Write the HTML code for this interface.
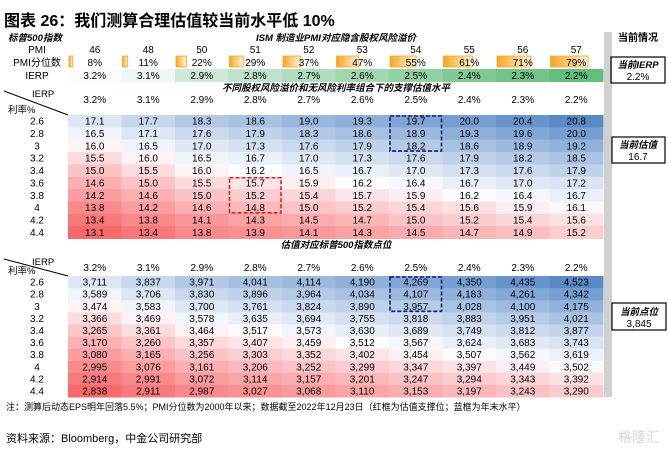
<!DOCTYPE html>
<html><head><meta charset="utf-8">
<style>
body{margin:0;background:#fff;}
svg{display:block;font-family:"Liberation Sans","Noto Sans CJK SC",sans-serif;}
</style></head>
<body>
<svg id="c" width="668" height="451" xmlns="http://www.w3.org/2000/svg">
<text x="4" y="26" font-size="16" font-weight="bold" fill="#000">图表 26：我们测算合理估值较当前水平低 10%</text>
<rect x="604" y="32" width="8" height="365" fill="#d0d0d0"/>
<text x="8" y="41" font-size="9.5" font-style="italic" font-weight="bold">标普500指数</text>
<text x="336" y="41" font-size="9.5" font-style="italic" font-weight="bold" text-anchor="middle">ISM 制造业PMI对应隐含股权风险溢价</text>
<text x="638" y="41" font-size="10" font-weight="bold" text-anchor="middle">当前情况</text>
<text x="37" y="53" font-size="10" text-anchor="middle">PMI</text>
<text x="37" y="66" font-size="10" text-anchor="middle">PMI分位数</text>
<text x="37" y="79" font-size="10" text-anchor="middle">IERP</text>
<rect x="611" y="57" width="54" height="26" fill="none" stroke="#000" stroke-width="1.2"/>
<text x="638" y="68" font-size="9.5" font-style="italic" font-weight="bold" text-anchor="middle">当前IERP</text>
<text x="638" y="80" font-size="10" text-anchor="middle">2.2%</text>
<text x="336" y="91" font-size="9.5" font-style="italic" font-weight="bold" text-anchor="middle">不同股权风险溢价和无风险利率组合下的支撑估值水平</text>
<text x="336" y="248" font-size="9.5" font-style="italic" font-weight="bold" text-anchor="middle">估值对应标普500指数点位</text>
<rect x="612" y="137" width="53" height="26" fill="none" stroke="#000" stroke-width="1.2"/>
<text x="638" y="148" font-size="9.5" font-style="italic" font-weight="bold" text-anchor="middle">当前估值</text>
<text x="638" y="160" font-size="10" text-anchor="middle">16.7</text>
<rect x="612" y="303" width="54" height="27" fill="none" stroke="#000" stroke-width="1.2"/>
<text x="639" y="315" font-size="9.5" font-style="italic" font-weight="bold" text-anchor="middle">当前点位</text>
<text x="639" y="327" font-size="10" text-anchor="middle">3,845</text>
<text x="6" y="410" font-size="9">注：测算后动态EPS明年回落5.5%；PMI分位数为2000年以来；数据截至2022年12月23日（红框为估值支撑位；蓝框为年末水平）</text>
<text x="6" y="442" font-size="11">资料来源：Bloomberg，中金公司研究部</text>
<text x="618" y="442" font-size="14" fill="#d8d8d8">格隆汇</text>
<g id="g"></g>
</svg>
<script>
const pmi = [46,48,50,51,52,53,54,55,56,57];
const pmiPct = [8,11,22,29,37,47,55,61,71,79];
const ierp = [3.2,3.1,2.9,2.8,2.7,2.6,2.5,2.4,2.3,2.2];
const rates = ["2.6","2.8","3","3.2","3.4","3.6","3.8","4","4.2","4.4"];
const pe = [
[17.1,17.7,18.3,18.6,19.0,19.3,19.7,20.0,20.4,20.8],
[16.5,17.1,17.6,17.9,18.3,18.6,18.9,19.3,19.6,20.0],
[16.0,16.5,17.0,17.3,17.6,17.9,18.2,18.6,18.9,19.2],
[15.5,16.0,16.5,16.7,17.0,17.3,17.6,17.9,18.2,18.5],
[15.0,15.5,16.0,16.2,16.5,16.7,17.0,17.3,17.6,17.9],
[14.6,15.0,15.5,15.7,15.9,16.2,16.4,16.7,17.0,17.2],
[14.2,14.6,15.0,15.2,15.4,15.7,15.9,16.2,16.4,16.7],
[13.8,14.2,14.6,14.8,15.0,15.2,15.4,15.6,15.9,16.1],
[13.4,13.8,14.1,14.3,14.5,14.7,15.0,15.2,15.4,15.6],
[13.1,13.4,13.8,13.9,14.1,14.3,14.5,14.7,14.9,15.2]];
const idx = [
[3711,3837,3971,4041,4114,4190,4269,4350,4435,4523],
[3589,3706,3830,3896,3964,4034,4107,4183,4261,4342],
[3474,3583,3700,3761,3824,3890,3957,4028,4100,4175],
[3366,3469,3578,3635,3694,3755,3818,3883,3951,4021],
[3265,3361,3464,3517,3573,3630,3689,3749,3812,3877],
[3170,3260,3357,3407,3459,3512,3567,3624,3683,3743],
[3080,3165,3256,3303,3352,3402,3454,3507,3562,3619],
[2995,3076,3161,3206,3252,3299,3347,3397,3449,3502],
[2914,2991,3072,3114,3157,3201,3247,3294,3343,3392],
[2838,2911,2987,3027,3068,3110,3153,3197,3243,3290]];
const redBox = {col:3, r0:5, r1:7};
const blueBox = {col:6, r0:0, r1:2};

const NS="http://www.w3.org/2000/svg", g=document.getElementById('g');
function el(t,a,txt){const e=document.createElementNS(NS,t);for(const k in a)e.setAttribute(k,a[k]);if(txt!==undefined)e.textContent=txt;g.appendChild(e);return e;}
const X0=68, CW=53.5;
const xc=i=>X0+CW*i+CW/2;
function lerp(a,b,t){return a.map((v,i)=>Math.round(v+(b[i]-v)*t));}
function scale3(v,mn,md,mx){
  if(v<=md){const t=(v-mn)/(md-mn);return 'rgb('+lerp([248,105,107],[252,252,255],t)+')';}
  const t=(v-md)/(mx-md);return 'rgb('+lerp([252,252,255],[90,138,198],t)+')';
}
pmi.forEach((p,i)=>{const t=el('text',{x:xc(i),y:53,'font-size':10,'text-anchor':'middle'},p);

});
const defs=el('defs',{});
defs.innerHTML='<linearGradient id="og" x1="0" x2="1"><stop offset="0" stop-color="#f5a623"/><stop offset="1" stop-color="#fff3dc"/></linearGradient>';
pmiPct.forEach((p,i)=>{const w=(CW-6)*p/100;
const b=el('rect',{x:X0+CW*i+1,y:56,width:w,height:11,fill:'url(#og)',stroke:'#f5a623','stroke-width':0.8});


const t=el('text',{x:xc(i),y:66,'font-size':10,'text-anchor':'middle'},p+'%');

});
ierp.forEach((v,i)=>{const t=(3.2-v)/(3.2-2.2);
const r=el('rect',{x:X0+CW*i,y:69,width:CW+0.5,height:13,fill:'rgb('+lerp([252,252,255],[99,190,123],t)+')'});


const tx=el('text',{x:xc(i),y:79,'font-size':10,'text-anchor':'middle'},v.toFixed(1)+'%');

});

function median(arr){const s=arr.flat().slice().sort((a,b)=>a-b);return (s[49]+s[50])/2;}
function table(data,top,rh,hy,fmt,name){
  const f=data.flat(),mn=Math.min(...f),mx=Math.max(...f),md=median(data);
  const ln=el('line',{x1:4,y1:hy-9,x2:68,y2:top,stroke:'#000','stroke-width':1});
  
  
  const a=el('text',{x:32,y:hy-3,'font-size':9.5},'IERP');
  
  
  const b=el('text',{x:8,y:top-2,'font-size':9.5},'利率%');
  
  
  ierp.forEach((v,i)=>{const t=el('text',{x:xc(i),y:hy+3,'font-size':10,'text-anchor':'middle'},v.toFixed(1)+'%');
    
    });
  data.forEach((row,r)=>{
    const yt=top+rh*r;
    const lt=el('text',{x:37,y:yt+rh/2+3.5,'font-size':10,'text-anchor':'middle'},rates[r]);
    
    
    row.forEach((v,i)=>{
      const c=el('rect',{x:X0+CW*i,y:yt,width:CW+0.5,height:rh+0.5,fill:scale3(v,mn,md,mx)});
      
      
      const t=el('text',{x:xc(i),y:yt+rh/2+3.5,'font-size':10,'text-anchor':'middle'},fmt(v));
      
      
    });
  });
  return (bx,color,nm)=>{const r=el('rect',{x:X0+CW*bx.col+1,y:top+rh*bx.r0+1,width:CW-2,height:rh*(bx.r1-bx.r0+1)-2,fill:'none',stroke:color,'stroke-width':1.6,'stroke-dasharray':'4,2'});
    
    };
}
const b1=table(pe,115,12.35,100,v=>v.toFixed(1),'pe');
b1(redBox,'#e0201c','pe-support-box');b1(blueBox,'#10207a','pe-yearend-box');
const b2=table(idx,276,12.1,268,v=>v.toLocaleString('en-US'),'index');
b2(blueBox,'#10207a','index-yearend-box');
</script>
</body></html>
